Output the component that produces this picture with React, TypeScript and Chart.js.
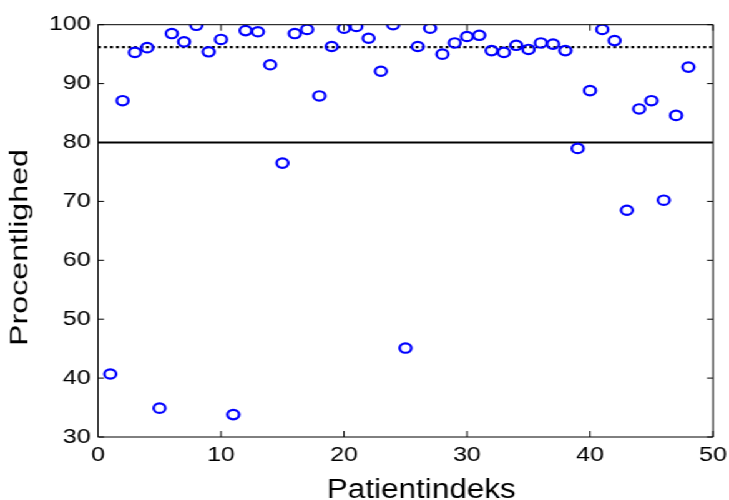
import React, { useEffect, useRef } from "react";
import { Chart, registerables } from "chart.js";

Chart.register(...registerables);

// ---- data ----
const patientIndex = [
  1, 2, 3, 4, 5, 6, 7, 8, 9, 10, 11, 12, 13, 14, 15, 16, 17, 18, 19, 20, 21, 22, 23, 24,
  25, 26, 27, 28, 29, 30, 31, 32, 33, 34, 35, 36, 37, 38, 39, 40, 41, 42, 43, 44, 45, 46, 47, 48,
];
const compliance = [
  40.7, 87.1, 95.3, 96.1, 34.9, 98.5, 97.1, 99.9, 95.4, 97.5, 33.8, 99.0, 98.8, 93.2, 76.5, 98.5,
  99.2, 87.9, 96.3, 99.4, 99.7, 97.7, 92.1, 100.0, 45.1, 96.3, 99.4, 95.0, 96.9, 98.0, 98.2, 95.6,
  95.3, 96.5, 95.8, 96.9, 96.7, 95.6, 79.0, 88.8, 99.2, 97.3, 68.5, 85.7, 87.1, 70.2, 84.6, 92.8,
];
const thresholdLevel = 80;
const meanLevel = 96.2;
const xRange = [0, 50];
const yRange = [30, 100];
const xTicks = [0, 10, 20, 30, 40, 50];
const yTicks = [30, 40, 50, 60, 70, 80, 90, 100];
const xTitle = "Patientindeks";
const yTitle = "Procentlighed";

// the picture is horizontally stretched; render narrower and scale
const INNER_W = 584;
const STRETCH = 729 / INNER_W;

const framePlugin = {
  id: "matlabFrame",
  afterDraw(chart: any) {
    const { ctx, chartArea } = chart;
    const { left, right, top, bottom } = chartArea;
    const xs = chart.scales.x;
    const ys = chart.scales.y;
    ctx.save();
    ctx.strokeStyle = "#000";
    ctx.lineWidth = 1;
    ctx.beginPath();
    ctx.rect(left, top, right - left, bottom - top);
    ctx.stroke();
    const tx = 6;
    const ty = 6 / STRETCH;
    ctx.beginPath();
    xTicks.forEach((v) => {
      const px = xs.getPixelForValue(v);
      ctx.moveTo(px, bottom);
      ctx.lineTo(px, bottom - tx);
      ctx.moveTo(px, top);
      ctx.lineTo(px, top + tx);
    });
    yTicks.forEach((v) => {
      const py = ys.getPixelForValue(v);
      ctx.moveTo(left, py);
      ctx.lineTo(left + ty, py);
      ctx.moveTo(right, py);
      ctx.lineTo(right - ty, py);
    });
    ctx.stroke();

    // x title
    ctx.fillStyle = "#000";
    ctx.font = "27px 'Liberation Sans', Arial, sans-serif";
    ctx.textAlign = "center";
    ctx.textBaseline = "alphabetic";
    const wx = ctx.measureText(xTitle).width;
    const targetX = 189 / STRETCH;
    ctx.save();
    ctx.translate(421.3 / STRETCH, 497.5);
    ctx.scale(targetX / wx, 1);
    ctx.fillText(xTitle, 0, 0);
    ctx.restore();

    // y title
    const fy = 19.6;
    ctx.font = `${fy}px 'Liberation Sans', Arial, sans-serif`;
    const wy = ctx.measureText(yTitle).width;
    ctx.save();
    ctx.translate(21.5 / STRETCH, 247.5);
    ctx.rotate(-Math.PI / 2);
    ctx.scale(197 / wy, 1);
    ctx.fillText(yTitle, 0, 0.26 * fy);
    ctx.restore();
    ctx.restore();
  },
};

export default function App() {
  const ref = useRef<HTMLCanvasElement | null>(null);
  useEffect(() => {
    if (!ref.current) return;
    const tickFont = { family: "'Liberation Sans', Arial, sans-serif", size: 20 };
    const chart = new Chart(ref.current, {
      type: "scatter",
      data: {
        datasets: [
          {
            label: "threshold",
            data: [
              { x: xRange[0], y: thresholdLevel },
              { x: xRange[1], y: thresholdLevel },
            ],
            showLine: true,
            borderColor: "#000",
            borderWidth: 2.2,
            pointRadius: 0,
            order: 2,
          },
          {
            label: "mean",
            data: [
              { x: xRange[0], y: meanLevel },
              { x: xRange[1], y: meanLevel },
            ],
            showLine: true,
            borderColor: "#000",
            borderWidth: 2.2,
            borderDash: [2.4, 2.4],
            pointRadius: 0,
            order: 2,
          },
          {
            label: "compliance",
            data: patientIndex.map((x, i) => ({ x, y: compliance[i] })),
            showLine: false,
            pointStyle: "circle",
            pointRadius: 4.7,
            pointBorderWidth: 2.2,
            pointBorderColor: "#0000ff",
            pointBackgroundColor: "rgba(0,0,0,0)",
            borderColor: "#0000ff",
            backgroundColor: "rgba(0,0,0,0)",
            order: 1,
          },
        ],
      },
      options: {
        animation: false,
        responsive: true,
        maintainAspectRatio: false,
        layout: { padding: { left: 0, right: INNER_W - 713 / STRETCH, top: 24.7, bottom: 0 } },
        plugins: { legend: { display: false }, tooltip: { enabled: false } },
        scales: {
          x: {
            type: "linear",
            min: xRange[0],
            max: xRange[1],
            afterBuildTicks: (s: any) => {
              s.ticks = xTicks.map((v) => ({ value: v }));
            },
            afterFit: (s: any) => {
              s.height = 500 - 437;
              s.paddingLeft = 0;
              s.paddingRight = 0;
            },
            grid: { display: false, drawTicks: false },
            border: { display: false },
            ticks: { color: "#000", font: tickFont, padding: 6, maxRotation: 0, autoSkip: false },
          },
          y: {
            type: "linear",
            min: yRange[0],
            max: yRange[1],
            afterBuildTicks: (s: any) => {
              s.ticks = yTicks.map((v) => ({ value: v }));
            },
            afterFit: (s: any) => {
              s.width = 98 / STRETCH;
              s.paddingTop = 0;
              s.paddingBottom = 0;
            },
            grid: { display: false, drawTicks: false },
            border: { display: false },
            ticks: { color: "#000", font: tickFont, padding: 6, autoSkip: false },
          },
        },
      },
      plugins: [framePlugin],
    });
    return () => chart.destroy();
  }, []);
  return (
    <div
      style={{
        position: "fixed",
        left: 0,
        top: 0,
        width: INNER_W + "px",
        height: "500px",
        transform: `scaleX(${STRETCH})`,
        transformOrigin: "0 0",
        background: "#fff",
      }}
    >
      <canvas ref={ref} />
    </div>
  );
}
